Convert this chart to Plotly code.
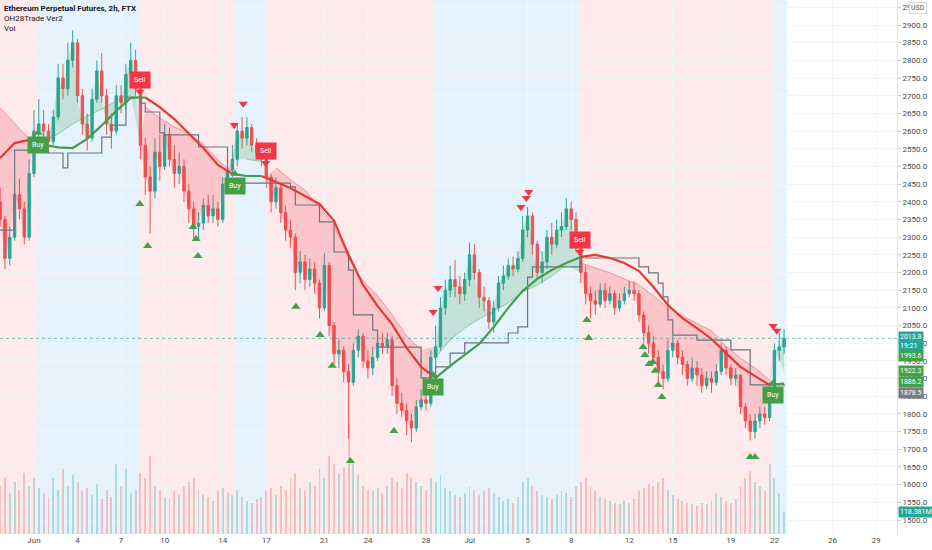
import pandas as pd
import plotly.graph_objects as go

title_lines = ["Ethereum Perpetual Futures, 2h, FTX", "OH28Trade Ver2", "Vol"]

# 8h candles starting 2021-05-29 16:00
first_candle = "2021-05-29 16:00"
first_open = 2400
close = [2350, 2240, 2300, 2420, 2380, 2300, 2480, 2600, 2620,
         2600, 2570, 2640, 2750, 2720, 2800, 2850, 2700, 2620, 2580, 2690, 2770, 2700, 2620, 2600, 2700, 2680, 2760, 2800, 2720,
         2560, 2470, 2430, 2540, 2500, 2590, 2520, 2480, 2500, 2430, 2380, 2330, 2340, 2390, 2360, 2380, 2350, 2450, 2490,
         2520, 2600, 2580, 2610, 2560, 2540, 2520,
         2470, 2400, 2440, 2370, 2320, 2300, 2200, 2230, 2180, 2210, 2170, 2100, 2220, 2050, 1970, 1980, 1920, 1890, 1980, 2020,
         1950, 1930, 1960, 2000, 1990, 2010, 1880, 1830, 1810, 1780, 1760, 1820, 1840, 1830,
         1960, 1990, 2100, 2150, 2180, 2160, 2140, 2180, 2250, 2200, 2130, 2120, 2060, 2100, 2170, 2190, 2220, 2210, 2240, 2320,
         2360, 2280, 2200, 2230, 2300, 2280, 2320, 2330, 2380, 2350, 2290,
         2200, 2140, 2120, 2110, 2150, 2120, 2140, 2100, 2120, 2140, 2150, 2140, 2080, 2030, 2000, 1960, 1920, 1900, 1980, 2000,
         1960, 1940, 1900, 1930, 1910, 1880, 1900, 1890, 1920, 1980, 1930, 1900, 1910, 1820, 1780, 1750, 1780, 1800, 1790, 1870,
         1980, 1990, 2013.8]
high = [2440, 2360, 2330, 2450, 2465, 2400, 2520, 2660, 2690,
        2660, 2620, 2660, 2790, 2790, 2850, 2885, 2860, 2720, 2650, 2720, 2800, 2820, 2720, 2650, 2730, 2730, 2790, 2850, 2830,
        2730, 2580, 2500, 2580, 2590, 2620, 2610, 2560, 2540, 2520, 2450, 2400, 2370, 2410, 2420, 2420, 2400, 2470, 2510,
        2560, 2620, 2640, 2640, 2620, 2580, 2560,
        2530, 2480, 2470, 2450, 2390, 2350, 2310, 2260, 2250, 2240, 2230, 2180, 2255, 2230, 2060, 2010, 1990, 1940, 2000, 2040,
        2030, 1980, 1990, 2020, 2030, 2030, 2020, 1900, 1860, 1830, 1800, 1840, 1870, 1870,
        1980, 2050, 2130, 2180, 2220, 2235, 2190, 2200, 2285, 2280, 2210, 2160, 2130, 2120, 2190, 2220, 2240, 2245, 2260, 2360,
        2385, 2370, 2290, 2260, 2320, 2340, 2350, 2370, 2410, 2400, 2370,
        2300, 2220, 2160, 2150, 2170, 2170, 2160, 2150, 2140, 2160, 2175, 2175, 2150, 2090, 2050, 2020, 1980, 1940, 2010, 2020,
        2010, 1980, 1950, 1960, 1950, 1930, 1920, 1920, 1940, 2000, 1990, 1940, 1930, 1910, 1830, 1800, 1800, 1820, 1820, 1890,
        2000, 2030, 2040]
low = [2330, 2210, 2220, 2290, 2350, 2280, 2290, 2470, 2560,
       2570, 2545, 2560, 2630, 2690, 2700, 2780, 2680, 2590, 2545, 2570, 2680, 2680, 2590, 2550, 2590, 2650, 2660, 2740, 2700,
       2520, 2420, 2310, 2410, 2460, 2490, 2500, 2440, 2450, 2400, 2340, 2290, 2290, 2320, 2340, 2340, 2330, 2340, 2440,
       2470, 2500, 2550, 2560, 2540, 2520, 2500,
       2440, 2370, 2380, 2340, 2290, 2270, 2150, 2170, 2150, 2160, 2140, 2070, 2090, 2020, 1940, 1930, 1890, 1730, 1880, 1960,
       1930, 1900, 1910, 1950, 1970, 1970, 1850, 1800, 1790, 1740, 1720, 1750, 1810, 1810,
       1820, 1930, 1980, 2080, 2130, 2130, 2110, 2120, 2160, 2180, 2100, 2090, 2040, 2030, 2090, 2150, 2180, 2190, 2200, 2230,
       2300, 2250, 2180, 2170, 2210, 2250, 2270, 2300, 2320, 2320, 2260,
       2170, 2110, 2070, 2080, 2100, 2100, 2110, 2080, 2090, 2110, 2130, 2120, 2060, 2000, 1970, 1940, 1890, 1870, 1890, 1960,
       1940, 1910, 1880, 1890, 1880, 1860, 1870, 1860, 1880, 1910, 1910, 1880, 1880, 1800, 1760, 1725, 1730, 1760, 1770, 1780,
       1860, 1950, 1970]
volume_m = [260, 310, 220, 280, 240, 330, 260, 300, 250,
            220, 200, 300, 240, 350, 260, 320, 280, 230, 250, 210, 270, 190, 240, 200, 380, 260, 350, 220, 240,
            330, 300, 420, 260, 240, 200, 190, 230, 210, 260, 280, 300, 240, 210, 200, 180, 230, 250, 220,
            210, 240, 200, 180, 170, 190, 200,
            230, 250, 210, 260, 240, 300, 330, 250, 230, 280, 260, 350, 300, 420, 380, 330, 360, 600, 400, 320,
            260, 240, 230, 250, 220, 260, 300, 280, 250, 330, 310, 280, 260, 240,
            300, 280, 320, 250, 230, 210, 200, 220, 260, 240, 210, 230, 250, 220, 200, 180, 190, 170, 200, 280,
            300, 260, 230, 210, 200, 190, 210, 230, 220, 200, 260,
            280, 300, 260, 230, 200, 190, 180, 170, 160, 180, 170, 190, 230, 250, 270, 260, 280, 300, 240, 210,
            190, 180, 170, 160, 150, 170, 160, 180, 220, 200, 180, 170, 190, 260, 300, 340, 280, 260, 230, 380,
            300, 220, 118.381]

# thick trend MA and thin cloud base, one reading per day (16:00)
ma_line = [2524, 2566, 2575, 2561, 2554, 2552, 2578, 2616, 2657, 2694, 2695, 2668, 2634, 2592, 2552, 2504, 2479, 2473,
           2473, 2456, 2439, 2416, 2394, 2346, 2250, 2165, 2105, 2054, 1987, 1933, 1902, 1936, 1967, 1998, 2046, 2100,
           2148, 2182, 2207, 2227, 2244, 2250, 2241, 2227, 2204, 2159, 2108, 2071, 2043, 2012, 1972, 1933, 1907, 1882, 1886.2]
cloud_line = [2665, 2620, 2578, 2569, 2592, 2620, 2643, 2662, 2685, 2702, 2668, 2637, 2612, 2592, 2563, 2518, 2484, 2520,
              2515, 2496, 2462, 2433, 2385, 2332, 2241, 2176, 2134, 2080, 2020, 1981, 1961, 2009, 2043, 2069, 2091, 2114,
              2145, 2165, 2190, 2221, 2227, 2213, 2199, 2182, 2165, 2134, 2100, 2077, 2057, 2035, 1992, 1958, 1930, 1896, 1922.3]

# stepped gray line: candle index where the level changes
gray_at = [0, 3, 10, 13, 14, 21, 23, 26, 29, 30, 33, 34, 41, 47, 60, 61, 66, 69, 72, 73, 77, 78, 87, 89, 90, 93, 96,
           105, 107, 109, 110, 120, 121, 132, 134, 136, 137, 138, 139, 144, 151, 155, 162]
gray_level = [2320, 2546, 2538, 2496, 2538, 2583, 2617, 2696, 2679, 2654, 2595, 2589, 2555, 2453, 2442, 2391, 2343, 2258,
              2207, 2080, 2037, 1989, 1902, 1896, 1933, 1972, 2001, 2029, 2046, 2187, 2216, 2244, 2241, 2216, 2199, 2170,
              2131, 2066, 2023, 2009, 1981, 1882, 1878.5]

signal_time = ["2021-06-01 07:00", "2021-06-08 07:00", "2021-06-14 20:00", "2021-06-16 23:00",
               "2021-06-28 12:00", "2021-07-08 14:00", "2021-07-21 22:00"]
signal_kind = ["Buy", "Sell", "Buy", "Sell", "Buy", "Sell", "Buy"]
signal_price = [2595, 2711, 2479, 2510, 1910, 2258, 1888]

up_mark_time = ["2021-06-08 07:00", "2021-06-08 20:00", "2021-06-11 23:00", "2021-06-12 04:00", "2021-06-12 07:00",
                "2021-06-19 01:00", "2021-06-20 17:00", "2021-06-21 13:00", "2021-06-22 19:00", "2021-06-25 19:00",
                "2021-07-09 02:00", "2021-07-09 05:00", "2021-07-12 23:00", "2021-07-13 02:00", "2021-07-13 09:00",
                "2021-07-13 15:00", "2021-07-13 19:00", "2021-07-14 00:00", "2021-07-14 06:00", "2021-07-20 08:00",
                "2021-07-20 16:00"]
up_mark_price = [2394, 2275, 2329, 2295, 2247, 2103, 2023, 1936, 1667, 1752, 2066, 2015, 1989, 1967, 1941, 1947, 1922,
                 1882, 1848, 1678, 1678]
down_mark_time = ["2021-06-14 19:00", "2021-06-15 10:00", "2021-06-28 12:00", "2021-06-28 20:00", "2021-07-04 13:00",
                  "2021-07-04 22:00", "2021-07-05 02:00", "2021-07-21 22:00", "2021-07-22 04:00"]
down_mark_price = [2617, 2677, 2088, 2156, 2385, 2411, 2428, 2049, 2035]

tick_days = ["2021-06-01", "2021-06-04", "2021-06-07", "2021-06-10", "2021-06-14", "2021-06-17", "2021-06-21",
             "2021-06-24", "2021-06-28", "2021-07-01", "2021-07-05", "2021-07-08", "2021-07-12", "2021-07-15",
             "2021-07-19", "2021-07-22", "2021-07-26", "2021-07-29"]
tick_text = ["Jun", "4", "7", "10", "14", "17", "21", "24", "28", "Jul", "5", "8", "12", "15", "19", "22", "26", "29"]

last_close_text = "2013.8<br>19:21"
axis_tag_values = [1993.6, 1922.3, 1886.2, 1878.5]
volume_tag = 118.381

GREEN = "#43a047"
RED = "#f23645"
TEAL = "#26a69a"
FONT = "Roboto"

dates = pd.date_range(first_candle, periods=len(close), freq="8h")
day_dates = pd.date_range(first_candle, periods=len(ma_line), freq="24h")
opens = [first_open] + close[:-1]
close_s = pd.Series(close)
cloud_s = pd.Series(cloud_line)
sig_t = pd.to_datetime(signal_time)


def state_at(t):
    s = "Sell"
    for st, k in zip(sig_t, signal_kind):
        if t >= st:
            s = k
    return s


fig = go.Figure()

# volume on the hidden left axis
vol_colors = ["rgba(38,166,154,0.3)" if c >= o else "rgba(239,83,80,0.3)" for o, c in zip(opens, close)]
fig.add_trace(go.Bar(x=dates, y=volume_m, marker_color=vol_colors, marker_line_width=0,
                     width=0.4 * 8 * 3600 * 1000, yaxis="y", hoverinfo="skip"))

# background bands + cloud fills per signal region
bounds = [dates[0] - pd.Timedelta("4h")] + list(sig_t) + [dates[-1] + pd.Timedelta("4h")]
states = ["Sell"] + signal_kind
shapes = []
for r0, r1, kind in zip(bounds[:-1], bounds[1:], states):
    buy = kind == "Buy"
    shapes.append(dict(type="rect", xref="x", yref="paper", x0=r0, x1=r1, y0=0, y1=1, layer="below", line_width=0,
                       fillcolor="rgba(33,150,243,0.12)" if buy else "rgba(242,54,69,0.11)"))
    cm = (dates >= r0 - pd.Timedelta("4h")) & (dates <= r1 + pd.Timedelta("4h"))
    dm = (day_dates >= r0) & (day_dates <= r1)
    fig.add_trace(go.Scatter(x=dates[cm], y=close_s[cm], mode="lines", line=dict(width=0), yaxis="y2",
                             hoverinfo="skip"))
    fig.add_trace(go.Scatter(x=day_dates[dm], y=cloud_s[dm], mode="lines", yaxis="y2", fill="tonexty",
                             line=dict(color="rgba(67,160,71,0.6)" if buy else "rgba(242,54,69,0.55)", width=0.8),
                             fillcolor="rgba(67,160,71,0.2)" if buy else "rgba(242,54,69,0.2)", hoverinfo="skip"))

# stepped gray line
fig.add_trace(go.Scatter(x=dates[gray_at], y=gray_level, mode="lines", line=dict(color="#6f7280", width=1.2, shape="hv"),
                         yaxis="y2", hoverinfo="skip"))

fig.add_trace(go.Candlestick(x=dates, open=opens, high=high, low=low, close=close, yaxis="y2",
                             increasing=dict(line=dict(color=TEAL, width=1), fillcolor=TEAL),
                             decreasing=dict(line=dict(color="#ef5350", width=1), fillcolor="#ef5350"),
                             whiskerwidth=0, hoverinfo="skip"))

# thick MA, coloured by the trend state
seg_x, seg_y, seg_state = [day_dates[0]], [ma_line[0]], None
for k in range(1, len(ma_line)):
    mid = day_dates[k - 1] + (day_dates[k] - day_dates[k - 1]) / 2
    st = state_at(mid)
    if seg_state is not None and st != seg_state:
        fig.add_trace(go.Scatter(x=seg_x, y=seg_y, mode="lines", yaxis="y2", hoverinfo="skip",
                                 line=dict(color=GREEN if seg_state == "Buy" else "#e53935", width=2.2)))
        seg_x, seg_y = [day_dates[k - 1]], [ma_line[k - 1]]
    seg_state = st
    seg_x.append(day_dates[k])
    seg_y.append(ma_line[k])
fig.add_trace(go.Scatter(x=seg_x, y=seg_y, mode="lines", yaxis="y2", hoverinfo="skip",
                         line=dict(color=GREEN if seg_state == "Buy" else "#e53935", width=2.2)))

fig.add_trace(go.Scatter(x=pd.to_datetime(up_mark_time), y=up_mark_price, mode="markers", yaxis="y2",
                         marker=dict(symbol="triangle-up", size=8, color=GREEN), hoverinfo="skip"))
fig.add_trace(go.Scatter(x=pd.to_datetime(down_mark_time), y=down_mark_price, mode="markers", yaxis="y2",
                         marker=dict(symbol="triangle-down", size=8, color=RED), hoverinfo="skip"))

# Buy / Sell labels
annotations = []
for t, k, p in zip(sig_t, signal_kind, signal_price):
    buy = k == "Buy"
    col = GREEN if buy else RED
    fig.add_trace(go.Scatter(x=[t], y=[p], mode="markers", yaxis="y2", hoverinfo="skip",
                             marker=dict(symbol="triangle-up" if buy else "triangle-down", size=8, color=col)))
    annotations.append(dict(x=t, y=p, xref="x", yref="y2", text=k, showarrow=False,
                            yanchor="top" if buy else "bottom", yshift=-3 if buy else 3,
                            bgcolor=col, borderpad=4, font=dict(color="white", size=7, family=FONT)))

for i, line in enumerate(title_lines):
    annotations.append(dict(x=0, y=1, xref="paper", yref="paper", xanchor="left", yanchor="top",
                            xshift=2, yshift=-2 - 10 * i, showarrow=False,
                            text=f"<b>{line}</b>" if i == 0 else line,
                            font=dict(size=8, color="#131722", family=FONT)))

# price tags on the right axis
annotations.append(dict(x=1, y=close[-1], xref="paper", yref="y2", xanchor="left", yanchor="top", yshift=7, xshift=1,
                        text=last_close_text, showarrow=False, bgcolor=TEAL, borderpad=1, align="left",
                        font=dict(size=7, color="white", family=FONT)))
for v, col, shift in zip(axis_tag_values, [GREEN, GREEN, GREEN, "#787b86"], [-10, 0, 1, -7]):
    annotations.append(dict(x=1, y=v, xref="paper", yref="y2", xanchor="left", yshift=shift, xshift=1,
                            text=f"{v:.1f}", showarrow=False, bgcolor=col, borderpad=1,
                            font=dict(size=7, color="white", family=FONT)))
annotations.append(dict(x=1, y=volume_tag, xref="paper", yref="y", xanchor="left", xshift=1,
                        text=f"{volume_tag:.3f}M", showarrow=False, bgcolor=TEAL, borderpad=1,
                        font=dict(size=7, color="white", family=FONT)))
annotations.append(dict(x=1, y=1, xref="paper", yref="paper", xanchor="left", yanchor="top", xshift=12, yshift=-2,
                        text="USD", showarrow=False, bordercolor="#d1d4dc", borderwidth=1, borderpad=1,
                        bgcolor="white", font=dict(size=7, color="#555", family=FONT)))

shapes.append(dict(type="line", xref="paper", yref="y2", x0=0, x1=1, y0=close[-1], y1=close[-1],
                   line=dict(color="rgba(38,166,154,0.6)", width=1, dash="dot")))

fig.update_layout(
    width=932, height=550,
    margin=dict(l=0, r=35, t=0, b=16),
    paper_bgcolor="white", plot_bgcolor="white",
    showlegend=False, hovermode=False,
    font=dict(family=FONT, size=8, color="#4a4a4a"),
    shapes=shapes, annotations=annotations,
    xaxis=dict(type="date", range=["2021-05-29 15:50", "2021-07-30 10:40"], rangeslider=dict(visible=False),
               tickvals=pd.to_datetime(tick_days), ticktext=tick_text, showgrid=True, gridcolor="#f3f4f7",
               zeroline=False, ticks="", automargin=False, tickfont=dict(size=8, color="#4a4a4a")),
    yaxis=dict(range=[0, 2884], visible=False, fixedrange=True, automargin=False),
    yaxis2=dict(overlaying="y", side="right", range=[1460.5, 2970.7], dtick=50, tickformat=".1f",
                showgrid=True, gridcolor="#f3f4f7", zeroline=False, showline=True, linecolor="#e0e3eb",
                ticks="outside", ticklen=3, tickcolor="#c8cad0", automargin=False,
                tickfont=dict(size=8, color="#4a4a4a")),
    bargap=0,
)

# page body has a default 8px margin; drop it so the figure fills the window
fig.write_html("out.html", config={"displayModeBar": False},
               post_script="document.body.style.margin = '0';")
